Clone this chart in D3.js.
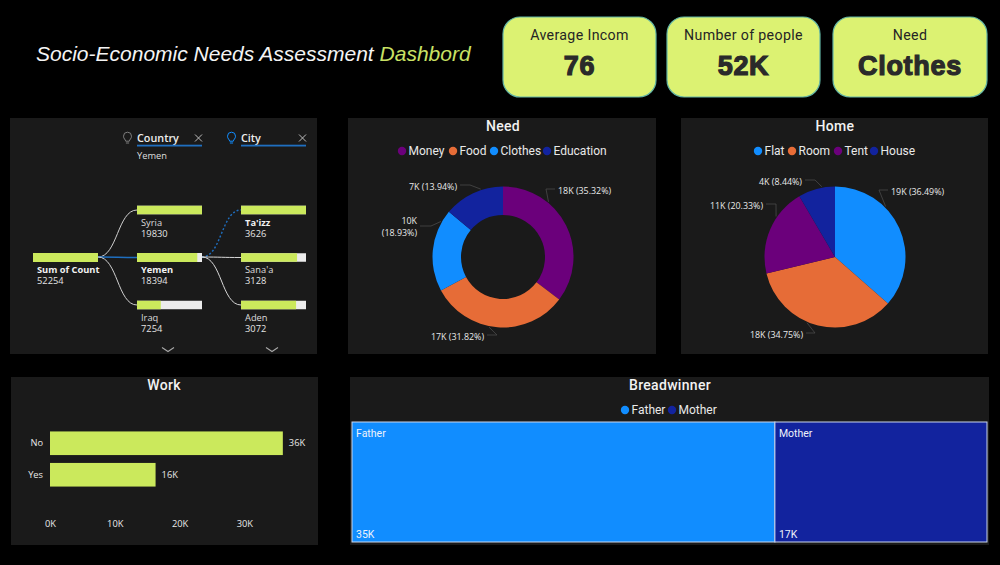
<!DOCTYPE html>
<html>
<head>
<meta charset="utf-8">
<script src="https://cdn.jsdelivr.net/npm/d3@7/dist/d3.min.js"></script>
<style>
html,body{margin:0;padding:0;background:#000;}
svg{display:block;}
text{font-family:"Open Sans",sans-serif;}
.din{font-family:Roboto,sans-serif;}
</style>
</head>
<body>
<svg id="board" width="1000" height="565"></svg>
<script>
// Dashboard values
const cardLabels = ["Average Incom", "Number of people", "Need"];
const cardValues = ["76", "52K", "Clothes"];

const needNames = ["Money", "Food", "Clothes", "Education"];
const needValues = [18455, 16626, 9891, 7282];

const homeNames = ["Flat", "Room", "Tent", "House"];
const homeValues = [19066, 18157, 10622, 4409];

const workNames = ["No", "Yes"];
const workValues = [35950, 16300];
const workTicks = [0, 10000, 20000, 30000];

const earnerNames = ["Father", "Mother"];
const earnerValues = [34800, 17454];

const rootName = "Sum of Count";
const rootValue = 52254;
const countryNames = ["Syria", "Yemen", "Iraq"];
const countryValues = [19830, 18394, 7254];
const cityNames = ["Ta'izz", "Sana'a", "Aden"];
const cityValues = [3626, 3128, 3072];

// Theme
const BLUE = "#118dff", ORANGE = "#e66c37", PURPLE = "#6b007b", NAVY = "#12239e";
const LIME = "#cbe95c", CARD = "#dcf272", PANEL = "#1a1a1a", INK = "#e9e9e9";
const colorOf = {Money:PURPLE, Food:ORANGE, Clothes:BLUE, Education:NAVY,
                 Flat:BLUE, Room:ORANGE, Tent:PURPLE, House:NAVY,
                 Father:BLUE, Mother:NAVY};

const svg = d3.select("#board");
const fmtK = v => Math.round(v / 1000) + "K";
const fmtPct = (v, total) => d3.format(".2f")(v / total * 100) + "%";

// Heading
const heading = svg.append("text").attr("x", 36).attr("y", 61)
  .style("font-family", '"Liberation Sans",Arial,sans-serif')
  .style("font-style", "italic").style("font-size", "21px").attr("fill", "#f4f4f4");
heading.append("tspan").text("Socio-Economic Needs Assessment ");
heading.append("tspan").attr("fill", "#c9e265").text("Dashbord");

// KPI cards
const cardBoxes = [[503, 153], [667, 153], [833, 154]];
cardLabels.forEach((label, i) => {
  const [x, w] = cardBoxes[i];
  svg.append("rect").attr("x", x).attr("y", 17).attr("width", w).attr("height", 80)
    .attr("rx", 17).attr("fill", CARD).attr("stroke", "#62b5a4").attr("stroke-width", 1.2);
  svg.append("text").attr("class", "din").attr("x", x + w / 2).attr("y", 40)
    .attr("text-anchor", "middle").attr("fill", "#252525")
    .style("font-size", "14.2px").style("letter-spacing", "0.35px").text(label);
  svg.append("text").attr("x", x + w / 2).attr("y", 75)
    .attr("text-anchor", "middle").attr("fill", "#2a2a2a")
    .attr("stroke", "#2a2a2a").attr("stroke-width", 1.2)
    .style("font-family", '"Liberation Sans",Arial,sans-serif')
    .style("font-weight", 700).style("font-size", "27px").style("letter-spacing", "0.7px")
    .text(cardValues[i]);
});

// Panels
[[10, 118, 307, 236], [348, 118, 308, 236], [681, 118, 307, 236],
 [11, 377, 307, 168], [350, 377, 639, 168]].forEach(([x, y, w, h]) => {
  svg.append("rect").attr("x", x).attr("y", y).attr("width", w).attr("height", h).attr("fill", PANEL);
});

function panelTitle(text, cx, y) {
  svg.append("text").attr("class", "din").attr("x", cx).attr("y", y)
    .attr("text-anchor", "middle").attr("fill", "#f2f2f2")
    .style("font-size", "14px").style("font-weight", 500).style("letter-spacing", "0.3px").text(text);
}

function legend(names, circleX, y) {
  names.forEach((name, i) => {
    svg.append("circle").attr("cx", circleX[i]).attr("cy", y).attr("r", 4.2).attr("fill", colorOf[name]);
    svg.append("text").attr("class", "din").attr("x", circleX[i] + 6.5).attr("y", y + 4.3)
      .attr("fill", INK).style("font-size", "12px").text(name);
  });
}

// Pie and donut share one drawing routine
function ring(names, values, cx, cy, outer, inner, notes) {
  const total = d3.sum(values);
  const slices = d3.pie().sort(null).value(d => d)(values);
  const arc = d3.arc().innerRadius(inner).outerRadius(outer);
  const g = svg.append("g").attr("transform", `translate(${cx},${cy})`);
  g.selectAll("path").data(slices).join("path")
    .attr("d", arc).attr("fill", (d, i) => colorOf[names[i]]);

  slices.forEach((s, i) => {
    const note = notes[i];
    const mid = (s.startAngle + s.endAngle) / 2 + note.shift;
    const sx = cx + Math.sin(mid) * (outer + 1), sy = cy - Math.cos(mid) * (outer + 1);
    svg.append("path")
      .attr("d", `M${sx},${sy}L${note.elbow[0]},${note.elbow[1]}L${note.end},${note.elbow[1]}`)
      .attr("fill", "none").attr("stroke", "#4a4a4a").attr("stroke-width", 0.8);
    const k = fmtK(values[i]), p = `(${fmtPct(values[i], total)})`;
    const lines = note.wrap ? [k, p] : [`${k} ${p}`];
    lines.forEach((line, j) => {
      svg.append("text").attr("x", note.x).attr("y", note.y + j * 12.3)
        .attr("text-anchor", note.anchor).attr("fill", INK)
        .style("font-size", "8.9px").text(line);
    });
  });
}

panelTitle("Need", 503, 131);
legend(needNames, [402, 453, 494, 547], 151);
ring(needNames, needValues, 503, 257, 70.5, 42, [
  {x: 558, y: 193.5, anchor: "start", elbow: [546, 189], end: 555, shift: -0.42},
  {x: 484, y: 339.5, anchor: "end", elbow: [497, 335], end: 487, shift: 0.12},
  {x: 417, y: 224, anchor: "end", elbow: [431, 226], end: 420, wrap: true, shift: 0.42},
  {x: 457, y: 189.5, anchor: "end", elbow: [470, 185], end: 460, shift: 0.12}
]);

panelTitle("Home", 835, 131);
legend(homeNames, [758, 792, 838, 874], 151);
ring(homeNames, homeValues, 835, 257, 70.5, 0, [
  {x: 891, y: 194.5, anchor: "start", elbow: [879, 190], end: 888, shift: -0.36},
  {x: 803, y: 337.5, anchor: "end", elbow: [815, 333], end: 806, shift: 0.16},
  {x: 763, y: 208.5, anchor: "end", elbow: [776, 204], end: 766, shift: 0.2},
  {x: 802, y: 184.5, anchor: "end", elbow: [815, 180], end: 805, shift: 0.08}
]);

// Work bars
panelTitle("Work", 164, 390);
const workX = d3.scaleLinear().domain([0, 30000]).range([50, 244.3]);
const workY = d3.scaleBand().domain(workNames).range([427.5, 490.5]).paddingInner(0.25).paddingOuter(0.125);
svg.selectAll("rect.work").data(workValues).join("rect").attr("class", "work")
  .attr("x", workX(0)).attr("y", (d, i) => workY(workNames[i]))
  .attr("width", d => workX(d) - workX(0)).attr("height", workY.bandwidth())
  .attr("fill", LIME);
svg.selectAll("text.workval").data(workValues).join("text").attr("class", "workval")
  .attr("x", d => workX(d) + 6).attr("y", (d, i) => workY(workNames[i]) + workY.bandwidth() / 2 + 3.2)
  .attr("fill", INK).style("font-size", "9.3px").text(fmtK);
const xAxis = svg.append("g").attr("transform", "translate(0,517)")
  .call(d3.axisBottom(workX).tickValues(workTicks).tickFormat(fmtK).tickSize(0).tickPadding(3));
const yAxis = svg.append("g").attr("transform", "translate(50,0)")
  .call(d3.axisLeft(workY).tickSize(0).tickPadding(7));
[xAxis, yAxis].forEach(a => {
  a.select(".domain").remove();
  a.selectAll("text").attr("fill", INK).style("font-size", "9.3px");
});

// Breadwinner treemap
panelTitle("Breadwinner", 670, 390);
legend(earnerNames, [625, 672], 410);
const tree = d3.hierarchy({children: earnerNames.map((n, i) => ({name: n, value: earnerValues[i]}))})
  .sum(d => d.value || 0);
d3.treemap().tile(d3.treemapSliceDice).size([635, 120])(tree);
const cells = svg.append("g").attr("transform", "translate(352,422)")
  .selectAll("g").data(tree.leaves()).join("g")
  .attr("transform", d => `translate(${d.x0},${d.y0})`);
cells.append("rect")
  .attr("width", d => d.x1 - d.x0).attr("height", d => d.y1 - d.y0)
  .attr("fill", d => colorOf[d.data.name]).attr("stroke", "#c9d6ee").attr("stroke-width", 1);
cells.append("text").attr("class", "din").attr("x", 4).attr("y", 14.5)
  .attr("fill", "#eef2fb").style("font-size", "10.5px").text(d => d.data.name);
cells.append("text").attr("class", "din").attr("x", 4).attr("y", 115.5)
  .attr("fill", "#eef2fb").style("font-size", "10.5px").text(d => fmtK(d.data.value));

// Decomposition tree
const bulb = (x, y, color) => {
  const g = svg.append("g").attr("fill", "none").attr("stroke", color).attr("stroke-width", 1);
  g.append("path").attr("d",
    `M${x - 1.8},${y + 3.2}C${x - 2},${y + 1.4} ${x - 4},${y + 0.8} ${x - 4},${y - 1.8}` +
    `A4,4 0 1 1 ${x + 4},${y - 1.8}C${x + 4},${y + 0.8} ${x + 2},${y + 1.4} ${x + 1.8},${y + 3.2}Z`);
  g.append("path").attr("d", `M${x - 1.6},${y + 5}H${x + 1.6}`);
};
function levelHeader(name, x, bulbColor) {
  bulb(x - 9.5, 138, bulbColor);
  svg.append("text").attr("x", x).attr("y", 142).attr("fill", "#eeeeee")
    .style("font-size", "10.8px").style("font-weight", 600).text(name);
  svg.append("rect").attr("x", x).attr("y", 144.7).attr("width", 65).attr("height", 1.8).attr("fill", "#1f6fc0");
  svg.append("path").attr("d", `M${x + 58},${134.5}l7,7m0,-7l-7,7`).attr("fill", "none")
    .attr("stroke", "#bdbdbd").attr("stroke-width", 1);
  svg.append("path").attr("d", `M${x + 25},${347.5}l6,4l6,-4`).attr("fill", "none")
    .attr("stroke", "#a8a8a8").attr("stroke-width", 1.1);
}
levelHeader("Country", 137, "#7d7d7d");
levelHeader("City", 241, BLUE);
svg.append("text").attr("x", 137).attr("y", 158.5).attr("fill", "#dedede")
  .style("font-size", "9.3px").text("Yemen");

const barW = 65;
const rowY = d3.scalePoint().domain([0, 1, 2]).range([210, 305]);
const barScale = d3.scaleLinear().domain([0, 1]).range([0, barW]);
const link = d3.linkHorizontal().x(d => d[0]).y(d => d[1]);

function decompBar(x, y, h, frac, name, value, bold) {
  svg.append("rect").attr("x", x).attr("y", y - h / 2).attr("width", barScale(1)).attr("height", h).attr("fill", "#ececec");
  svg.append("rect").attr("x", x).attr("y", y - h / 2).attr("width", barScale(frac)).attr("height", h).attr("fill", LIME);
  const tx = x + 4;
  svg.append("text").attr("x", tx).attr("y", y + 15.5).attr("fill", bold ? "#f2f2f2" : "#dcdcdc")
    .style("font-size", "9.3px").style("font-weight", bold ? 700 : 400).text(name);
  svg.append("text").attr("x", tx).attr("y", y + 26.5).attr("fill", "#e4e4e4")
    .style("font-size", "9.3px").text(value);
}

const countryMax = d3.max(countryValues), cityMax = d3.max(cityValues);

// Connectors: the expanded branch is blue, the AI-picked city is dotted
countryNames.forEach((n, i) => {
  svg.append("path").attr("d", link({source: [98, 257], target: [137, rowY(i)]}))
    .attr("fill", "none")
    .attr("stroke", i === 1 ? "#1f6fc0" : "#cfcfcf")
    .attr("stroke-width", i === 1 ? 1.6 : 1);
});
cityNames.forEach((n, i) => {
  const path = svg.append("path").attr("d", link({source: [202, 257], target: [241, rowY(i)]}))
    .attr("fill", "none")
    .attr("stroke", i === 0 ? "#1f6fc0" : "#d8d8d8")
    .attr("stroke-width", i === 0 ? 1.4 : 1);
  if (i === 0) path.attr("stroke-dasharray", "2 2");
});

decompBar(33, 257.5, 9, 1, rootName, rootValue, true);
countryNames.forEach((n, i) => {
  decompBar(137, rowY(i), i === 1 ? 9 : 8.5, countryValues[i] / countryMax, n, countryValues[i], i === 1);
});
cityNames.forEach((n, i) => {
  decompBar(241, rowY(i), 8.5, cityValues[i] / cityMax, n, cityValues[i], i === 0);
});
</script>
</body>
</html>
